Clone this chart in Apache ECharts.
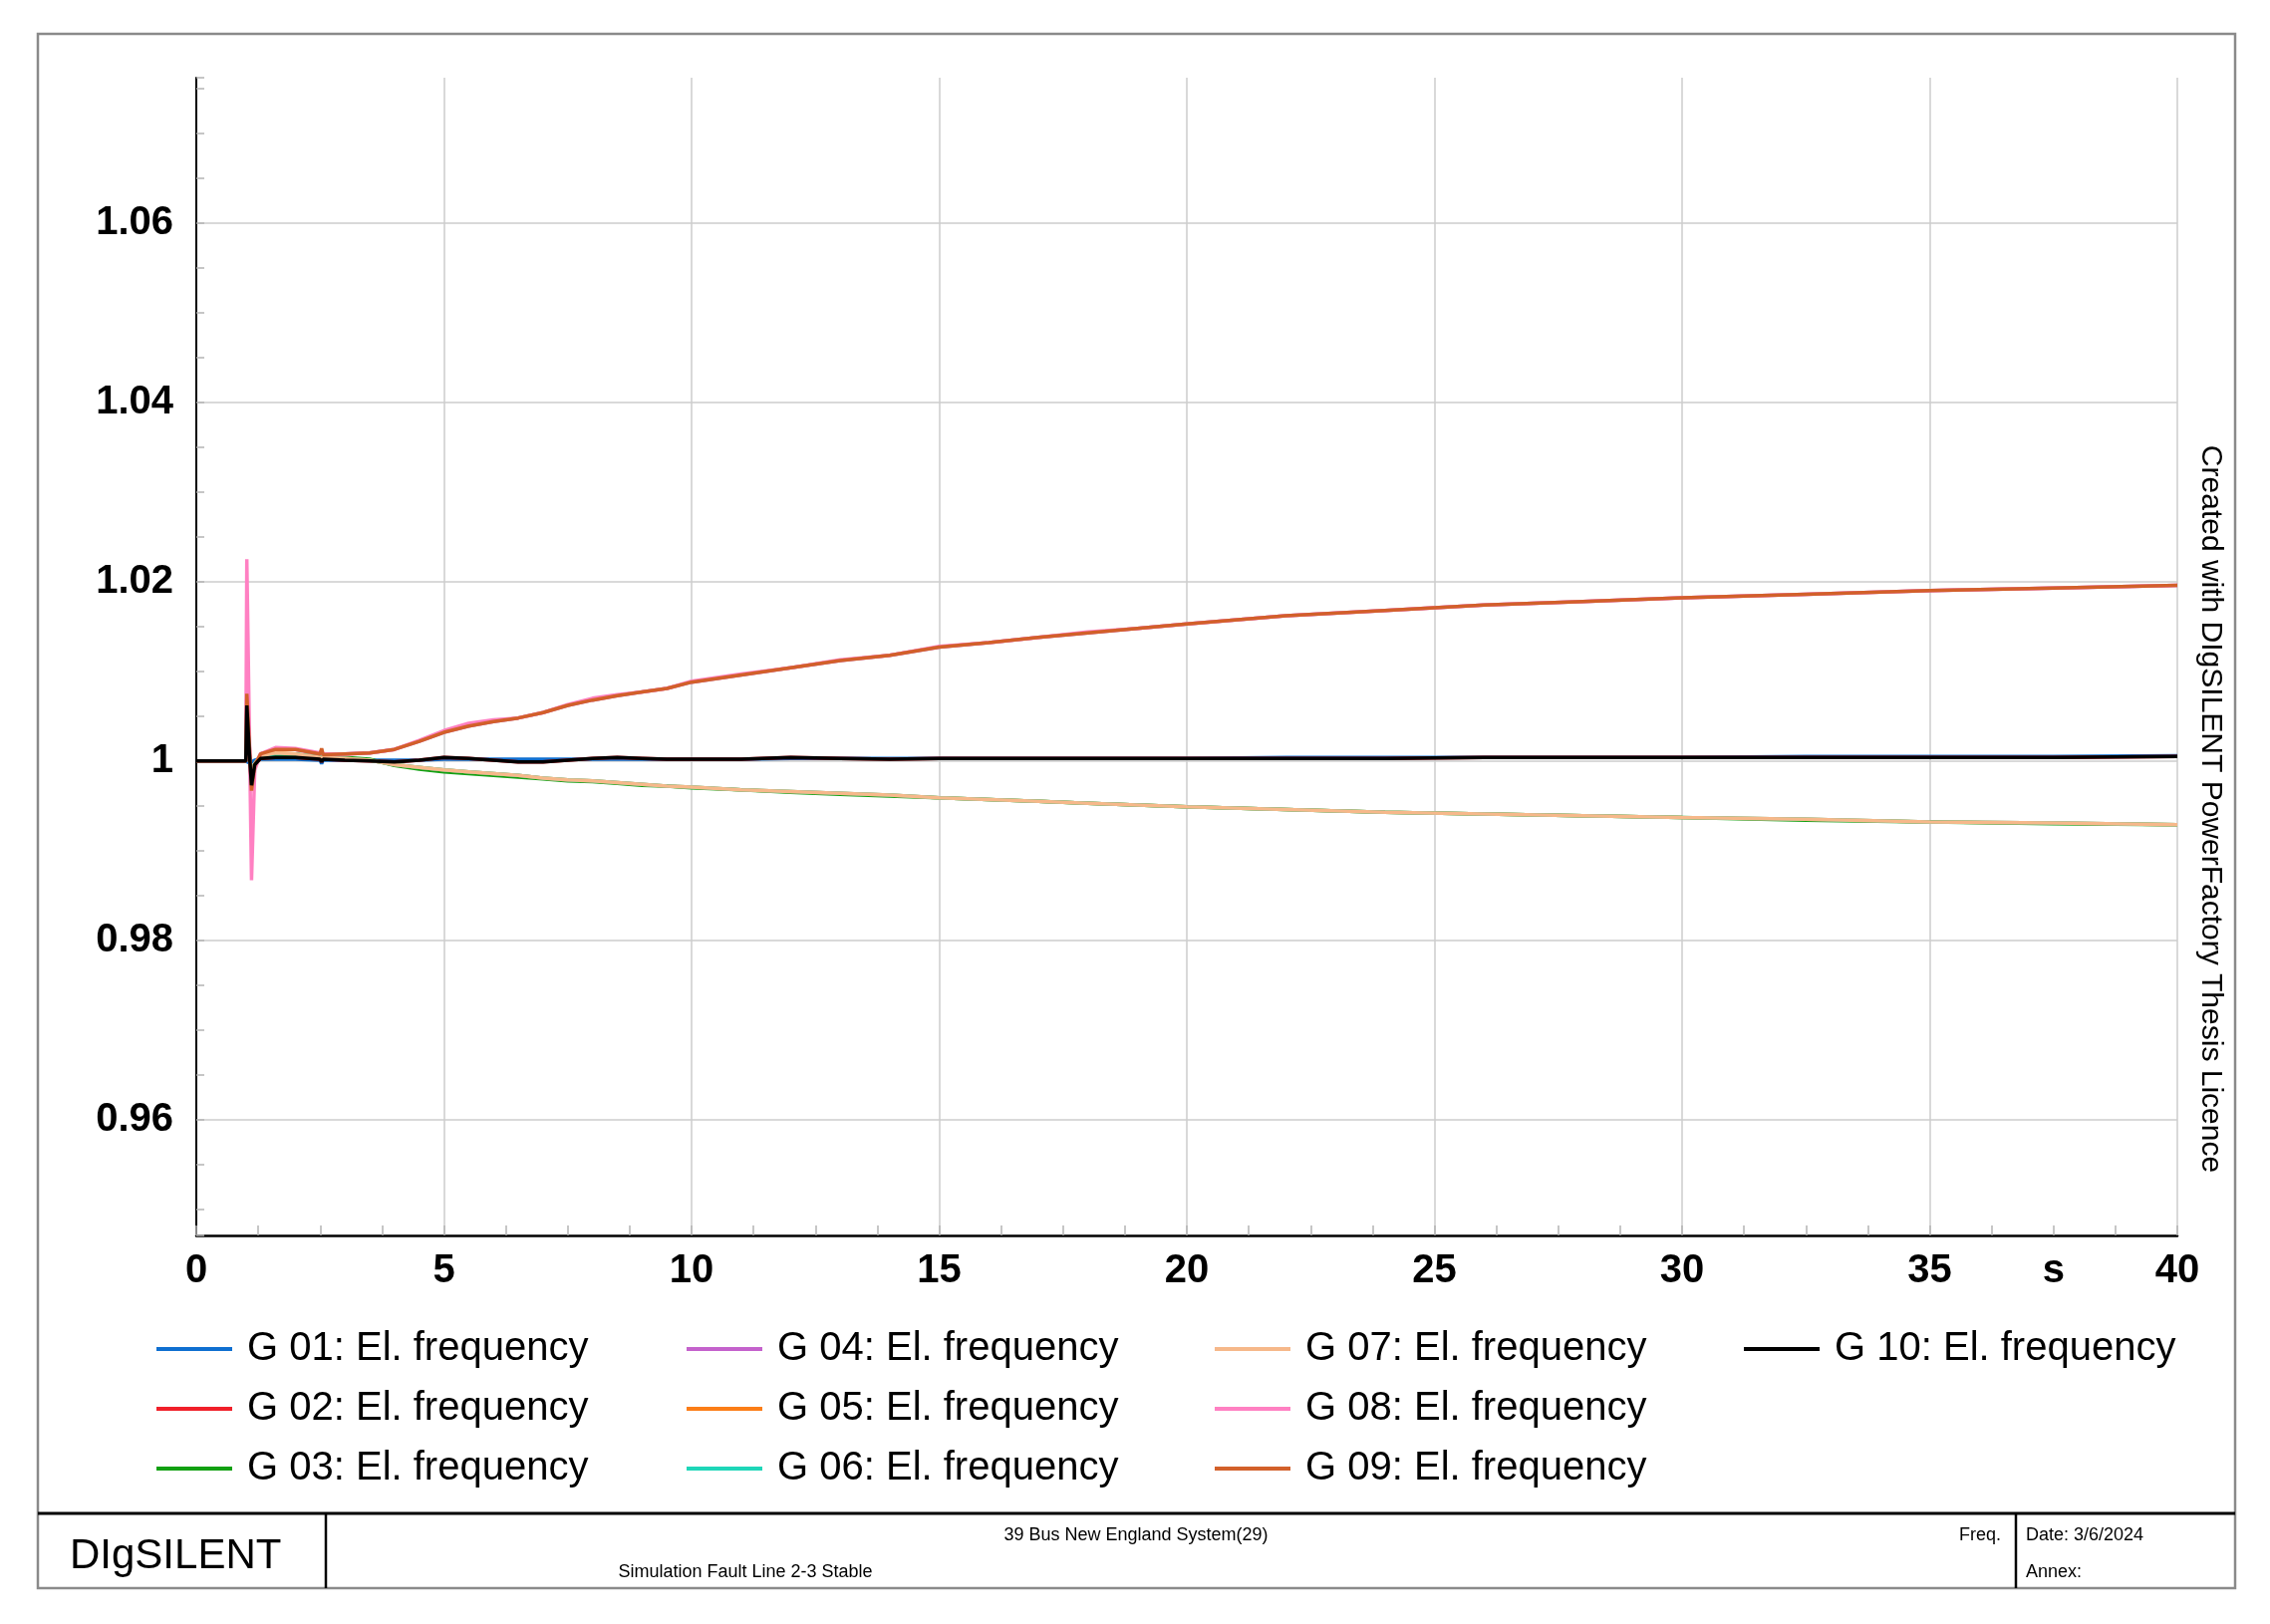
<!DOCTYPE html>
<html><head><meta charset="utf-8">
<script src="https://cdn.jsdelivr.net/npm/echarts@6/dist/echarts.min.js"></script>
<style>html,body{margin:0;padding:0;background:#fff}#c{width:2278px;height:1630px}</style>
</head><body><div id="c"></div>
<script>
// time axis (s)
const times = [0, 1.0, 1.02, 1.07, 1.115, 1.18, 1.3, 1.6, 2.0, 2.5, 2.53, 2.56, 3.0, 3.5, 4.0, 4.5, 5.0, 5.5, 6.0, 6.5, 7.0, 7.5, 8.0, 8.5, 9.0, 9.5, 10, 11, 12, 13, 14, 15, 16, 17, 18, 19, 20, 22, 24, 26, 28, 30, 32.5, 35, 37.5, 40];

// El. frequency (p.u.)
const g01 = [1.0, 1.0, 1.0002, 0.9998, 0.9999, 1.0001, 1.0002, 1.0002, 1.0002, 1.0001, 0.9997, 1.0001, 1.0001, 1.0001, 1.0001, 1.0001, 1.0002, 1.0002, 1.0002, 1.0002, 1.0002, 1.0002, 1.0002, 1.0002, 1.0002, 1.0002, 1.0002, 1.0002, 1.0003, 1.0003, 1.0003, 1.0003, 1.0003, 1.0003, 1.0003, 1.0003, 1.0003, 1.0004, 1.0004, 1.0004, 1.0004, 1.0004, 1.0005, 1.0005, 1.0005, 1.0006];
const g02 = [1.0, 1.0, 1.0055, 1.0009, 0.9976, 0.9996, 1.0003, 1.0004, 1.0004, 1.0002, 0.9999, 1.0002, 1.0001, 1.0, 0.9999, 1.0001, 1.0004, 1.0003, 1.0001, 0.9999, 0.9999, 1.0001, 1.0003, 1.0004, 1.0003, 1.0002, 1.0002, 1.0002, 1.0004, 1.0003, 1.0002, 1.0003, 1.0003, 1.0003, 1.0003, 1.0003, 1.0003, 1.0003, 1.0003, 1.0004, 1.0004, 1.0004, 1.0004, 1.0004, 1.0004, 1.0005];
const g03 = [1.0, 1.0, 1.002, 1.0004, 0.9985, 0.9997, 1.0005, 1.0007, 1.0007, 1.0005, 1.0005, 1.0005, 1.0004, 1.0002, 0.9995, 0.9991, 0.9988, 0.9986, 0.9984, 0.9982, 0.998, 0.9978, 0.9977, 0.9975, 0.9973, 0.9972, 0.997, 0.9968, 0.9965, 0.9963, 0.9961, 0.9959, 0.9957, 0.9955, 0.9953, 0.9951, 0.9949, 0.9946, 0.9943, 0.9941, 0.9939, 0.9937, 0.9934, 0.9932, 0.993, 0.9929];
const g04 = [1.0, 1.0, 1.006, 1.0018, 0.9972, 0.9995, 1.0008, 1.0013, 1.0013, 1.0008, 1.0012, 1.0007, 1.0008, 1.0009, 1.0013, 1.0022, 1.0032, 1.0039, 1.0044, 1.0048, 1.0054, 1.0062, 1.0068, 1.0073, 1.0077, 1.0081, 1.0088, 1.0096, 1.0104, 1.0112, 1.0118, 1.0127, 1.0132, 1.0138, 1.0143, 1.0148, 1.0153, 1.0162, 1.0168, 1.0174, 1.0178, 1.0182, 1.0186, 1.019, 1.0193, 1.0196];
const g05 = [1.0, 1.0, 1.0028, 1.0005, 0.9981, 0.9997, 1.0006, 1.0009, 1.0008, 1.0004, 1.0005, 1.0004, 1.0003, 1.0001, 0.9996, 0.9993, 0.999, 0.9988, 0.9986, 0.9984, 0.9981, 0.9979, 0.9978, 0.9976, 0.9974, 0.9972, 0.9971, 0.9968, 0.9966, 0.9964, 0.9962, 0.9959, 0.9957, 0.9955, 0.9953, 0.9951, 0.9949, 0.9946, 0.9943, 0.9941, 0.9939, 0.9937, 0.9935, 0.9932, 0.9931, 0.9929];
const g06 = [1.0, 1.0, 1.0025, 1.0004, 0.9982, 0.9997, 1.0006, 1.0008, 1.0008, 1.0004, 1.0005, 1.0004, 1.0003, 1.0001, 0.9996, 0.9993, 0.999, 0.9988, 0.9986, 0.9984, 0.9981, 0.9979, 0.9978, 0.9976, 0.9974, 0.9972, 0.9971, 0.9968, 0.9966, 0.9964, 0.9962, 0.9959, 0.9957, 0.9955, 0.9953, 0.9951, 0.9949, 0.9946, 0.9943, 0.9941, 0.9939, 0.9937, 0.9935, 0.9932, 0.9931, 0.9929];
const g07 = [1.0, 1.0, 1.003, 1.0005, 0.998, 0.9997, 1.0006, 1.0009, 1.0008, 1.0004, 1.0006, 1.0004, 1.0003, 1.0001, 0.9996, 0.9993, 0.999, 0.9988, 0.9986, 0.9984, 0.9981, 0.9979, 0.9978, 0.9976, 0.9974, 0.9972, 0.9971, 0.9968, 0.9966, 0.9964, 0.9962, 0.9959, 0.9957, 0.9955, 0.9953, 0.9951, 0.9949, 0.9946, 0.9943, 0.9941, 0.9939, 0.9937, 0.9935, 0.9932, 0.9931, 0.9929];
const g08 = [1.0, 1.0, 1.0225, 1.004, 0.9867, 0.999, 1.0008, 1.0015, 1.0014, 1.0009, 1.0012, 1.0008, 1.0008, 1.0009, 1.0013, 1.0023, 1.0034, 1.0042, 1.0046, 1.0048, 1.0054, 1.0063, 1.007, 1.0074, 1.0077, 1.0081, 1.0089, 1.0097, 1.0104, 1.0113, 1.0118, 1.0128, 1.0132, 1.0138, 1.0144, 1.0148, 1.0153, 1.0162, 1.0168, 1.0174, 1.0178, 1.0182, 1.0186, 1.019, 1.0193, 1.0196];
const g09 = [1.0, 1.0, 1.0075, 1.002, 0.9967, 0.9995, 1.0008, 1.0013, 1.0013, 1.0008, 1.0014, 1.0007, 1.0008, 1.0009, 1.0013, 1.0022, 1.0032, 1.0039, 1.0044, 1.0048, 1.0054, 1.0062, 1.0068, 1.0073, 1.0077, 1.0081, 1.0088, 1.0096, 1.0104, 1.0112, 1.0118, 1.0127, 1.0132, 1.0138, 1.0143, 1.0148, 1.0153, 1.0162, 1.0168, 1.0174, 1.0178, 1.0182, 1.0186, 1.019, 1.0193, 1.0196];
const g10 = [1.0, 1.0, 1.0062, 1.001, 0.9973, 0.9996, 1.0003, 1.0004, 1.0004, 1.0002, 0.9999, 1.0002, 1.0001, 1.0, 0.9999, 1.0001, 1.0004, 1.0003, 1.0001, 0.9999, 0.9999, 1.0001, 1.0003, 1.0004, 1.0003, 1.0002, 1.0002, 1.0002, 1.0004, 1.0003, 1.0002, 1.0003, 1.0003, 1.0003, 1.0003, 1.0003, 1.0003, 1.0003, 1.0003, 1.0004, 1.0004, 1.0004, 1.0004, 1.0004, 1.0004, 1.0005];

const seriesNames = ['G 01: El. frequency', 'G 02: El. frequency', 'G 03: El. frequency', 'G 04: El. frequency', 'G 05: El. frequency', 'G 06: El. frequency', 'G 07: El. frequency', 'G 08: El. frequency', 'G 09: El. frequency', 'G 10: El. frequency'];
const seriesValues = [g01, g02, g03, g04, g05, g06, g07, g08, g09, g10];
const seriesColors = ['#0f6fd0', '#f0202a', '#12a012', '#c462cc', '#fb7d17', '#1ed6b8', '#f6b88a', '#ff80c2', '#d2602a', '#000000'];

const yTickValues = [0.96, 0.98, 1, 1.02, 1.04, 1.06];
const yTickLabels = ['0.96', '0.98', '1', '1.02', '1.04', '1.06'];
const xTickValues = [0, 5, 10, 15, 20, 25, 30, 35, 37.5, 40];
const xTickLabels = ['0', '5', '10', '15', '20', '25', '30', '35', 's', '40'];

const FONT = '"Liberation Sans", Arial, sans-serif';
const chart = echarts.init(document.getElementById('c'), null, {renderer: 'canvas'});

function findLabel(values, labels, v) {
  for (let i = 0; i < values.length; i++) if (Math.abs(values[i] - v) < 1e-6) return labels[i];
  return '';
}

const series = seriesNames.map((n, i) => ({
  name: n, type: 'line', xAxisIndex: 0, yAxisIndex: 0,
  data: times.map((t, k) => [t, seriesValues[i][k]]),
  showSymbol: false, symbol: 'none', smooth: false,
  lineStyle: {color: seriesColors[i], width: 3.5},
  itemStyle: {color: seriesColors[i]},
  z: 3 + i, animation: false
}));

function makeLegend(names, left) {
  return {
    orient: 'vertical', left: left, top: 1329, itemGap: 20,
    itemWidth: 76, itemHeight: 4, icon: 'rect', selectedMode: false,
    data: names,
    textStyle: {fontFamily: FONT, fontSize: 40, color: '#000', lineHeight: 40, padding: [0, 0, 0, 10]}
  };
}

const option = {
  backgroundColor: '#ffffff',
  animation: false,
  grid: {left: 197, right: 93, top: 78, bottom: 390, containLabel: false},
  legend: [
    makeLegend(seriesNames.slice(0, 3), 152),
    makeLegend(seriesNames.slice(3, 6), 684),
    makeLegend(seriesNames.slice(6, 9), 1214),
    makeLegend(seriesNames.slice(9, 10), 1745)
  ],
  xAxis: [
    {type: 'value', min: 0, max: 40, interval: 1.25, position: 'bottom',
     axisLine: {show: true, onZero: false, lineStyle: {color: '#000', width: 2.5}},
     axisTick: {show: true, inside: true, length: 10, lineStyle: {color: '#b4b4b4', width: 1.5}},
     axisLabel: {show: true, margin: 16, fontFamily: FONT, fontSize: 40, fontWeight: 'bold', color: '#000',
       formatter: v => findLabel(xTickValues, xTickLabels, v)},
     splitLine: {show: false}},
    {type: 'value', min: 0, max: 40, interval: 5, position: 'top',
     axisLine: {show: false}, axisTick: {show: false}, axisLabel: {show: false},
     splitLine: {show: true, showMinLine: false, lineStyle: {color: '#cccccc', width: 1.5}}}
  ],
  yAxis: [
    {type: 'value', min: 0.9471, max: 1.0762, splitNumber: 26, position: 'left',
     axisLine: {show: true, onZero: false, lineStyle: {color: '#000', width: 2}},
     axisTick: {show: true, inside: true, length: 8, lineStyle: {color: '#b4b4b4', width: 1.5}},
     axisLabel: {show: true, margin: 23, fontFamily: FONT, fontSize: 40, fontWeight: 'bold', color: '#000',
       formatter: v => findLabel(yTickValues, yTickLabels, v)},
     splitLine: {show: false}},
    {type: 'value', min: 0.9471, max: 1.0762, splitNumber: 6, position: 'right',
     axisLine: {show: false}, axisTick: {show: false}, axisLabel: {show: false},
     splitLine: {show: true, showMinLine: false, showMaxLine: false, lineStyle: {color: '#cccccc', width: 1.5}}}
  ],
  series: series,
  graphic: [
    {type: 'rect', silent: true, z: 100, shape: {x: 38, y: 34, width: 2205, height: 1560},
     style: {fill: 'none', stroke: '#8a8a8a', lineWidth: 2.5}},
    {type: 'line', silent: true, z: 100, shape: {x1: 38, y1: 1519, x2: 2243, y2: 1519},
     style: {stroke: '#000', lineWidth: 3}},
    {type: 'line', silent: true, z: 100, shape: {x1: 327, y1: 1519, x2: 327, y2: 1594},
     style: {stroke: '#000', lineWidth: 2.5}},
    {type: 'line', silent: true, z: 100, shape: {x1: 2023, y1: 1519, x2: 2023, y2: 1594},
     style: {stroke: '#000', lineWidth: 2.5}},
    {type: 'text', silent: true, z: 100, x: 70, y: 1562,
     style: {text: 'DIgSILENT', font: '42px ' + FONT, fill: '#000', textAlign: 'left', textVerticalAlign: 'middle', align: 'left', verticalAlign: 'middle'}},
    {type: 'text', silent: true, z: 100, x: 1140, y: 1541,
     style: {text: '39 Bus New England System(29)', font: '18px ' + FONT, fill: '#000', textAlign: 'center', textVerticalAlign: 'middle', align: 'center', verticalAlign: 'middle'}},
    {type: 'text', silent: true, z: 100, x: 748, y: 1578,
     style: {text: 'Simulation Fault Line 2-3 Stable', font: '18px ' + FONT, fill: '#000', textAlign: 'center', textVerticalAlign: 'middle', align: 'center', verticalAlign: 'middle'}},
    {type: 'text', silent: true, z: 100, x: 2008, y: 1541,
     style: {text: 'Freq.', font: '18px ' + FONT, fill: '#000', textAlign: 'right', textVerticalAlign: 'middle', align: 'right', verticalAlign: 'middle'}},
    {type: 'text', silent: true, z: 100, x: 2033, y: 1541,
     style: {text: 'Date: 3/6/2024', font: '18px ' + FONT, fill: '#000', textAlign: 'left', textVerticalAlign: 'middle', align: 'left', verticalAlign: 'middle'}},
    {type: 'text', silent: true, z: 100, x: 2033, y: 1578,
     style: {text: 'Annex:', font: '18px ' + FONT, fill: '#000', textAlign: 'left', textVerticalAlign: 'middle', align: 'left', verticalAlign: 'middle'}},
    {type: 'text', silent: true, z: 100, x: 2218, y: 812, rotation: -Math.PI / 2,
     style: {text: 'Created with DIgSILENT PowerFactory Thesis Licence', font: '30px ' + FONT, fill: '#000', textAlign: 'center', textVerticalAlign: 'middle', align: 'center', verticalAlign: 'middle'}}
  ]
};
chart.setOption(option);
</script>
</body></html>
